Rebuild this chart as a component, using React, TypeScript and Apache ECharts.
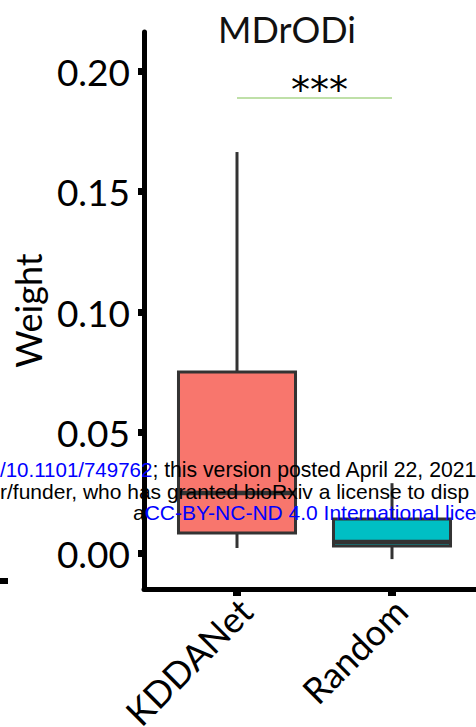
import React, { useEffect, useRef } from "react";
import * as echarts from "echarts";

const categories = ["KDDANet", "Random"];
const categoryPositions = [1, 2];
const whiskerLow = [0.0021, -0.0025];
const quartile1 = [0.0083, 0.0029];
const medians = [0.0249, 0.0046];
const quartile3 = [0.0751, 0.0141];
const whiskerHigh = [0.1664, 0.029];
const fillColors = ["#F8766D", "#00BFC4"];
const yTicks = [0, 0.05, 0.1, 0.15, 0.2];
const sigLevel = 0.189;
const sigLabel = "***";
const titleText = "MDrODi";
const yName = "Weight";

const FONT = "Lato";

export default function App() {
  const ref = useRef<HTMLDivElement>(null);
  useEffect(() => {
    if (!ref.current) return;
    const chart = echarts.init(ref.current, null, { renderer: "svg" });
    const boxData = categories.map((_, i) => [
      categoryPositions[i],
      whiskerLow[i],
      quartile1[i],
      medians[i],
      quartile3[i],
      whiskerHigh[i],
    ]);
    const stroke = "#333333";
    chart.setOption({
      animation: false,
      backgroundColor: "#ffffff",
      title: {
        text: titleText,
        left: 218,
        top: 11,
        padding: 0,
        textStyle: { fontFamily: FONT, fontSize: 36, fontWeight: "normal", color: "#111" },
      },
      grid: { left: 144, top: 32, width: 341, height: 557, outerBoundsMode: "none", containLabel: false },
      xAxis: {
        type: "value",
        min: 0.4,
        max: 2.6,
        splitLine: { show: false },
        axisLine: { show: true, onZero: false, lineStyle: { color: "#000", width: 5 } },
        axisTick: { show: true, customValues: categoryPositions, length: 7, lineStyle: { color: "#000", width: 8 } },
        axisLabel: {
          customValues: categoryPositions,
          formatter: (v: number) => categories[categoryPositions.indexOf(v)] ?? "",
          rotate: 45,
          margin: 7,
          verticalAlign: "top",
          lineHeight: 24,
          fontFamily: FONT,
          fontSize: 36,
          color: "#000",
        },
      },
      yAxis: {
        type: "value",
        min: -0.0149,
        max: 0.2162,
        name: yName,
        nameLocation: "middle",
        nameGap: 94,
        nameRotate: 90,
        nameTextStyle: { fontFamily: FONT, fontSize: 36, color: "#000" },
        splitLine: { show: false },
        axisLine: { show: true, onZero: false, lineStyle: { color: "#000", width: 5 } },
        axisTick: { show: true, customValues: yTicks, length: 6, lineStyle: { color: "#000", width: 7 } },
        axisLabel: {
          customValues: yTicks,
          formatter: (v: number) => v.toFixed(2),
          margin: 14,
          fontFamily: FONT,
          fontSize: 37,
          color: "#000",
        },
      },
      series: [
        {
          type: "custom",
          data: boxData,
          encode: { x: 0, y: [1, 2, 3, 4, 5] },
          renderItem: (params: any, api: any) => {
            const x = api.value(0);
            const lo = api.coord([x, api.value(1)]);
            const q1 = api.coord([x, api.value(2)]);
            const md = api.coord([x, api.value(3)]);
            const q3 = api.coord([x, api.value(4)]);
            const hi = api.coord([x, api.value(5)]);
            const w = api.size([0.755, 0])[0];
            return {
              type: "group",
              children: [
                { type: "line", shape: { x1: hi[0], y1: hi[1], x2: q3[0], y2: q3[1] }, style: { stroke, lineWidth: 3 } },
                { type: "line", shape: { x1: lo[0], y1: lo[1], x2: q1[0], y2: q1[1] }, style: { stroke, lineWidth: 3 } },
                {
                  type: "rect",
                  shape: { x: q3[0] - w / 2, y: q3[1], width: w, height: q1[1] - q3[1] },
                  style: { fill: fillColors[params.dataIndex], stroke, lineWidth: 3 },
                },
                {
                  type: "line",
                  shape: { x1: md[0] - w / 2, y1: md[1], x2: md[0] + w / 2, y2: md[1] },
                  style: { stroke, lineWidth: 4.5 },
                },
              ],
            };
          },
        },
        {
          type: "line",
          data: [],
          markLine: {
            symbol: "none",
            silent: true,
            lineStyle: { color: "#bfe0a8", width: 2, type: "solid" },
            label: {
              show: true,
              position: "insideMiddleTop",
              formatter: sigLabel,
              fontFamily: "DejaVu Sans",
              fontSize: 38,
              color: "#000",
              distance: -11,
              padding: [0, 0, 0, 10],
            },
            data: [[{ coord: [categoryPositions[0], sigLevel] }, { coord: [categoryPositions[1], sigLevel] }]],
          },
        },
      ],
      graphic: [
        { type: "rect", shape: { x: 0, y: 578, width: 8, height: 6 }, style: { fill: "#000" } },
        {
          type: "text",
          z: 100,
          x: 0,
          y: 469,
          style: {
            text: "{b|/10.1101/749762}{k|; this version posted April 22, 2021}",
            verticalAlign: "middle",
            rich: {
              b: { fill: "#0000ff", fontFamily: "Liberation Sans", fontSize: 20.5 },
              k: { fill: "#000", fontFamily: "Liberation Sans", fontSize: 21.2 },
            },
          },
        },
        {
          type: "text",
          z: 100,
          x: 0,
          y: 491,
          style: {
            text: "r/funder, who has granted bioRxiv a license to disp",
            verticalAlign: "middle",
            fill: "#000",
            fontFamily: "Liberation Sans",
            fontSize: 21,
          },
        },
        {
          type: "text",
          z: 100,
          x: 133,
          y: 512,
          style: {
            text: "{k|a}{b|CC-BY-NC-ND 4.0 International lice}",
            verticalAlign: "middle",
            rich: {
              b: { fill: "#0000ff", fontFamily: "Liberation Sans", fontSize: 21 },
              k: { fill: "#000", fontFamily: "Liberation Sans", fontSize: 21 },
            },
          },
        },
      ],
    });
    return () => chart.dispose();
  }, []);
  return (
    <div
      ref={ref}
      style={{ position: "fixed", left: 0, top: 0, width: 476, height: 727, background: "#fff" }}
    />
  );
}
